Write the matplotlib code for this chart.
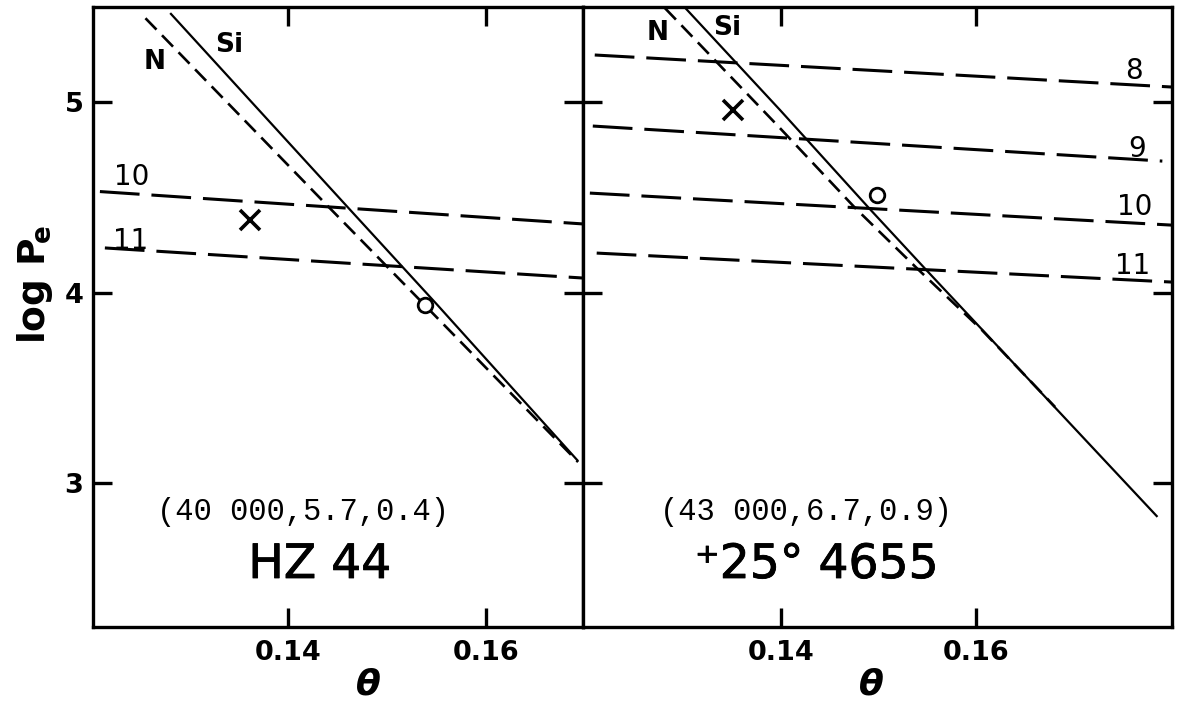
import matplotlib.pyplot as plt
import matplotlib.patheffects as pe

# frame limits of the two panels
ylims = (2.244, 5.499)
xlim_hz = (0.1203, 0.1698)
xlim_bd = (0.1197, 0.1801)
xticks = [0.14, 0.16]
xticklabels = ['0.14', '0.16']
yticks = [3, 4, 5]
yticklabels = ['3', '4', '5']

# HZ 44: Si and N curves
hz_si_theta = [0.1281, 0.1461, 0.1551, 0.1693]
hz_si_logpe = [5.467, 4.444, 3.934, 3.115]
hz_n_theta = [0.1256, 0.1442, 0.1533, 0.1693]
hz_n_logpe = [5.44, 4.444, 3.961, 3.11]
# HZ 44: constant log g lines (label, theta ends, log Pe ends)
hz_g_labels = ['10', '11']
hz_g_theta = [(0.1210, 0.1698), (0.1215, 0.1698)]
hz_g_logpe = [(4.53, 4.36), (4.234, 4.076)]
hz_cross = (0.1362, 4.381)
hz_circle = (0.1538, 3.934)
hz_params = '(40 000,5.7,0.4)'
hz_name = 'HZ 44'

# +25 4655
bd_si_theta = [0.1302, 0.1399, 0.1492, 0.1549, 0.1786]
bd_si_logpe = [5.493, 4.958, 4.433, 4.118, 2.822]
bd_n_theta = [0.1281, 0.1396, 0.1476, 0.1539, 0.1606, 0.1681]
bd_n_logpe = [5.493, 4.879, 4.444, 4.129, 3.803, 3.399]
bd_g_labels = ['8', '9', '10', '11']
bd_g_theta = [(0.1209, 0.1800), (0.1207, 0.1791), (0.1204, 0.1800), (0.1211, 0.1800)]
bd_g_logpe = [(5.247, 5.079), (4.874, 4.690), (4.522, 4.354), (4.207, 4.055)]
bd_cross = (0.1351, 4.958)
bd_circle = (0.1498, 4.512)
bd_params = '(43 000,6.7,0.9)'
bd_name = '\u207a25\u00b0 4655'

plt.rcParams['font.family'] = ['DejaVu Sans']

fig = plt.figure(figsize=(11.8, 7.07), dpi=100)
ax1 = fig.add_axes([0.0788, 0.1132, 0.4153, 0.8769])
ax2 = fig.add_axes([0.4941, 0.1132, 0.4992, 0.8769])

thick = [pe.withStroke(linewidth=0.6, foreground='black')]


def panel(ax, xlim, si_t, si_p, n_t, n_p, g_t, g_p, cross, circle):
    ax.set_xlim(*xlim)
    ax.set_ylim(*ylims)
    ax.plot(si_t, si_p, color='black', lw=1.6, solid_capstyle='butt')
    ax.plot(n_t, n_p, color='black', lw=1.9, linestyle=(0, (6.0, 3.0)))
    for t, p in zip(g_t, g_p):
        ax.plot(t, p, color='black', lw=2.2, linestyle=(0, (13.0, 3.9)))
    ax.plot(*cross, marker='x', ms=14, mew=2.6, color='black', ls='none')
    ax.plot(*circle, marker='o', ms=10.5, mew=2.0, mfc='white', mec='black', ls='none')

    ax.set_xticks(xticks)
    ax.set_xticklabels(xticklabels)
    ax.set_yticks(yticks)
    ax.tick_params(direction='in', length=13.5, width=2.4, top=True, right=True,
                   labelsize=19.5, pad=6.8)
    ax.tick_params(axis='x', pad=9.5)
    for lab in ax.get_xticklabels() + ax.get_yticklabels():
        lab.set_fontweight('bold')
    for s in ax.spines.values():
        s.set_linewidth(2.4)
    ax.set_xlabel('\u03b8', fontsize=26, fontweight='bold', fontstyle='italic')


panel(ax1, xlim_hz, hz_si_theta, hz_si_logpe, hz_n_theta, hz_n_logpe,
      hz_g_theta, hz_g_logpe, hz_cross, hz_circle)
panel(ax2, xlim_bd, bd_si_theta, bd_si_logpe, bd_n_theta, bd_n_logpe,
      bd_g_theta, bd_g_logpe, bd_cross, bd_circle)

ax1.set_yticklabels(yticklabels)
ax2.set_yticklabels([])
ax1.xaxis.set_label_coords(0.563, -0.066)
ax2.xaxis.set_label_coords(0.489, -0.066)

# subscript e pulled in a little under the P
ax1.set_ylabel(r'log P$\!_\mathbf{e}$', fontsize=27, fontweight='bold')
ax1.yaxis.set_label_coords(-0.078, 0.553)

# curve names
lab_kw = dict(fontsize=19, fontweight='bold', ha='center', va='center')
ax1.text(0.12657, 5.21, 'N', **lab_kw)
ax1.text(0.13404, 5.299, 'Si', **lab_kw)
ax2.text(0.12738, 5.362, 'N', **lab_kw)
ax2.text(0.13446, 5.388, 'Si', **lab_kw)

# log g labels on the dashed lines
g_kw = dict(fontsize=20, ha='center', va='center')
for lab, (x, y) in zip(hz_g_labels, [(0.12424, 4.606), (0.12414, 4.270)]):
    ax1.text(x, y, lab, **g_kw)
for lab, (x, y) in zip(bd_g_labels, [(0.17621, 5.163), (0.17651, 4.753),
                                     (0.17631, 4.449), (0.1761, 4.139)]):
    ax2.text(x, y, lab, **g_kw)

# star names and model parameters
ax1.text(0.4286, 0.1726, hz_params, transform=ax1.transAxes, fontsize=22,
         family='Liberation Mono', ha='center', va='baseline')
ax2.text(0.379, 0.1726, bd_params, transform=ax2.transAxes, fontsize=22,
         family='Liberation Mono', ha='center', va='baseline')
ax1.text(0.463, 0.079, hz_name, transform=ax1.transAxes, fontsize=34,
         ha='center', va='baseline', path_effects=thick)
ax2.text(0.397, 0.079, bd_name, transform=ax2.transAxes, fontsize=34,
         ha='center', va='baseline', path_effects=thick)

fig.savefig('out.png', dpi=100)
